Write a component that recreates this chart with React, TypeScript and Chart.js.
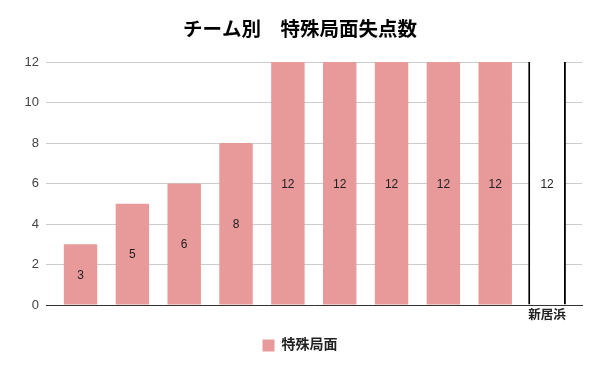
import React, { useEffect, useRef } from "react";
import { Chart, registerables } from "chart.js";

Chart.register(...registerables);

const TITLE = "チーム別　特殊局面失点数";
const SERIES = "特殊局面";
const categories = ["", "", "", "", "", "", "", "", "", "新居浜"];
const values = [3, 5, 6, 8, 12, 12, 12, 12, 12, 12];
const highlightIndex = 9;
const yMin = 0;
const yMax = 12;
const yStep = 2;

const PINK = "rgb(232,153,153)";
const FONT = "'Liberation Sans', Arial, 'Noto Sans CJK JP', sans-serif";

const normalValues = values.map((v, i) => (i === highlightIndex ? null : v));
const highlightValues = values.map((v, i) => (i === highlightIndex ? v : null));

const barLabels = {
  id: "barLabels",
  afterDatasetsDraw(chart: any) {
    const ctx = chart.ctx;
    ctx.save();
    ctx.font = `12px ${FONT}`;
    ctx.fillStyle = "#222";
    ctx.textAlign = "center";
    ctx.textBaseline = "middle";
    chart.data.datasets.forEach((ds: any, di: number) => {
      const meta = chart.getDatasetMeta(di);
      meta.data.forEach((el: any, i: number) => {
        const v = ds.data[i];
        if (v == null) return;
        const { x, y, base } = el.getProps(["x", "y", "base"], true);
        ctx.fillText(String(v), x, (y + base) / 2 + 1);
      });
    });
    ctx.restore();
  },
};

export default function App() {
  const ref = useRef<HTMLCanvasElement | null>(null);
  useEffect(() => {
    document.body.style.margin = "0";
    const canvas = ref.current!;
    const chart = new Chart(canvas, {
      type: "bar",
      data: {
        labels: categories,
        datasets: [
          {
            label: SERIES,
            data: normalValues,
            backgroundColor: PINK,
            borderWidth: 0,
            borderRadius: 1,
            barPercentage: 0.645,
            categoryPercentage: 1,
            grouped: false,
          } as any,
          {
            label: SERIES,
            data: highlightValues,
            backgroundColor: "#ffffff",
            borderColor: "#000000",
            borderWidth: { left: 2, right: 2, top: 0, bottom: 0 },
            barPercentage: 0.727,
            categoryPercentage: 1,
            grouped: false,
          } as any,
        ],
      },
      options: {
        responsive: false,
        animation: false,
        devicePixelRatio: 1,
        layout: { padding: { left: 0, right: 0, top: 0, bottom: 8.6 } },
        plugins: {
          title: {
            display: true,
            text: TITLE,
            color: "#000",
            font: { family: FONT, size: 19.5, weight: "bold" },
            padding: { top: 19, bottom: 19.6 },
          },
          legend: {
            position: "bottom",
            labels: {
              filter: (item: any) => item.datasetIndex === 0,
              boxWidth: 12,
              boxHeight: 12,
              padding: 12.4,
              color: "#222",
              font: { family: FONT, size: 14, weight: "bold" },
            },
          },
          tooltip: { enabled: false },
        },
        scales: {
          x: {
            grid: { display: false, drawTicks: false },
            border: { display: true, color: "#333", width: 1, z: 1 },
            ticks: {
              color: "#222",
              padding: 3,
              autoSkip: false,
              maxRotation: 0,
              font: { family: FONT, size: 12.5, weight: "bold" },
            },
            afterBuildTicks: (s: any) => {
              s._startValue = -0.666;
              s._valueRange = 10.34;
            },
          },
          y: {
            min: yMin,
            max: yMax,
            ticks: {
              stepSize: yStep,
              color: "#444",
              padding: 7,
              font: { family: FONT, size: 13 },
            },
            grid: {
              color: "#cccccc",
              drawTicks: false,
            },
            border: { display: false },
            afterFit: (s: any) => {
              s.width = 46;
            },
          },
          yRight: {
            position: "right",
            display: true,
            min: yMin,
            max: yMax,
            grid: { display: false, drawTicks: false },
            border: { display: false },
            ticks: { display: false },
            afterFit: (s: any) => {
              s.width = 18;
            },
          },
        },
      } as any,
      plugins: [barLabels],
    });
    return () => chart.destroy();
  }, []);
  return (
    <div style={{ width: 600, height: 371 }}>
      <canvas ref={ref} width={600} height={371} />
    </div>
  );
}
